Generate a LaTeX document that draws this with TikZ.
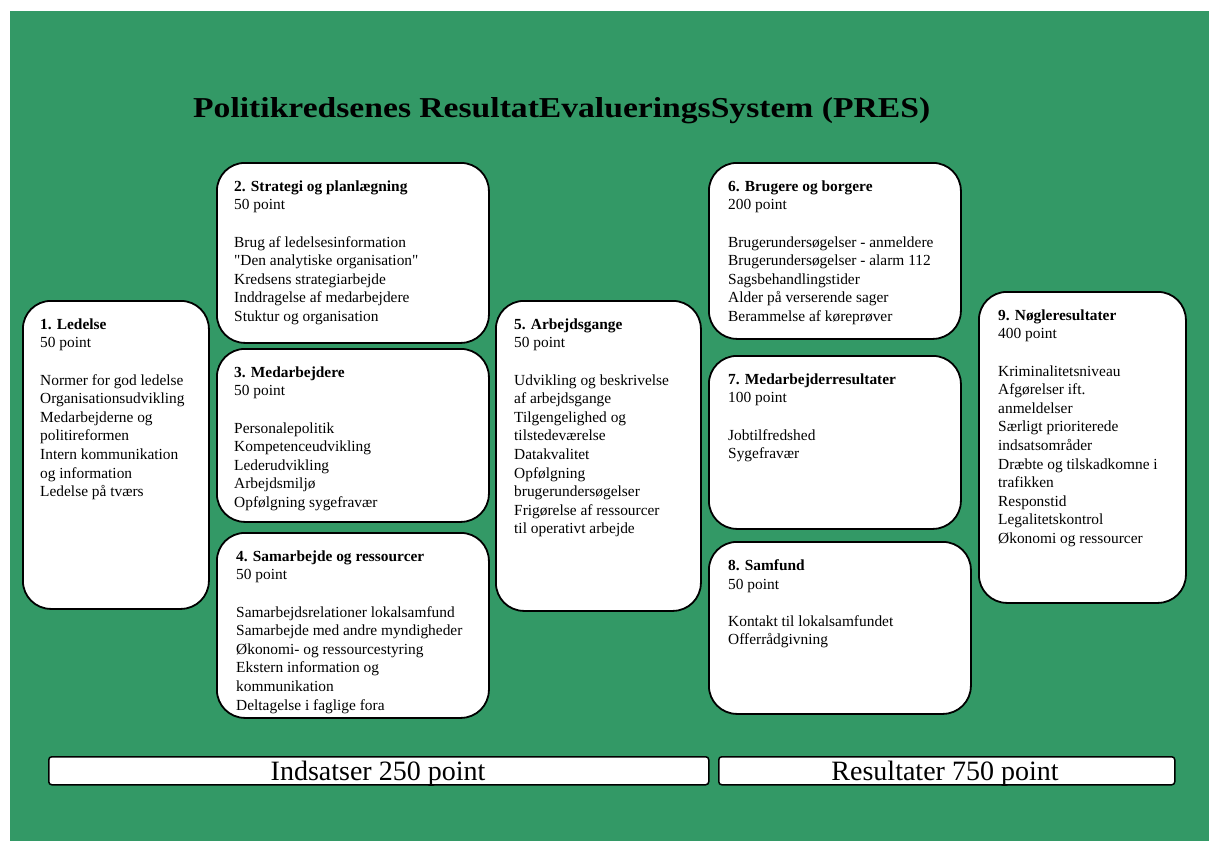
\documentclass[tikz,border=0pt]{standalone}
\usepackage{fontspec}
\setmainfont{Liberation Serif}[Ligatures=TeXOff]
\definecolor{bggreen}{RGB}{51,153,102}
\tikzset{
  card/.style={draw=black, line width=1.8pt, fill=white, rounded corners=28pt, inner sep=0pt, anchor=north west},
  cardtext/.style={anchor=north west, align=left, inner sep=0pt, font=\fontsize{15.4}{18.6}\selectfont},
  bar/.style={draw=black, line width=1.5pt, fill=white, rounded corners=3pt, inner sep=0pt, anchor=north west},
  barlabel/.style={anchor=base, inner sep=0pt, font=\fontsize{28}{32}\selectfont},
}
\begin{document}
\begin{tikzpicture}[x=1pt,y=-1pt]
\useasboundingbox (0,0) rectangle (1209,841);
\fill[bggreen] (10,11) rectangle (1209,841);
\node[anchor=base west, inner sep=0pt] (title) at (193,117) {\resizebox{737pt}{20pt}{\bfseries Politikredsenes ResultatEvalueringsSystem (PRES)}};

\node[card, minimum width=186pt, minimum height=308pt] (b1) at (22,300) {};
\node[card, minimum width=272pt, minimum height=180pt] (b2) at (216,162) {};
\node[card, minimum width=272pt, minimum height=173pt] (b3) at (216,348) {};
\node[card, minimum width=272pt, minimum height=185pt] (b4) at (216,532) {};
\node[card, minimum width=205pt, minimum height=310pt] (b5) at (495,300) {};
\node[card, minimum width=252pt, minimum height=176pt] (b6) at (708,162) {};
\node[card, minimum width=252pt, minimum height=173pt] (b7) at (708,355) {};
\node[card, minimum width=262pt, minimum height=172pt] (b8) at (708,541) {};
\node[card, minimum width=207pt, minimum height=311pt] (b9) at (978,291) {};

\node[cardtext] (t1) at (40,318.5) {\textbf{1. Ledelse}\\50 point\\[18.6pt]Normer for god ledelse\\Organisationsudvikling\\Medarbejderne og\\politireformen\\Intern kommunikation\\og information\\Ledelse på tværs};
\node[cardtext] (t2) at (234,180.5) {\textbf{2. Strategi og planlægning}\\50 point\\[18.6pt]Brug af ledelsesinformation\\"Den analytiske organisation"\\Kredsens strategiarbejde\\Inddragelse af medarbejdere\\Stuktur og organisation};
\node[cardtext] (t3) at (234,366.5) {\textbf{3. Medarbejdere}\\50 point\\[18.6pt]Personalepolitik\\Kompetenceudvikling\\Lederudvikling\\Arbejdsmiljø\\Opfølgning sygefravær};
\node[cardtext] (t4) at (236,550.5) {\textbf{4. Samarbejde og ressourcer}\\50 point\\[18.6pt]Samarbejdsrelationer lokalsamfund\\Samarbejde med andre myndigheder\\Økonomi- og ressourcestyring\\Ekstern information og\\kommunikation\\Deltagelse i faglige fora};
\node[cardtext] (t5) at (514,318.5) {\textbf{5. Arbejdsgange}\\50 point\\[18.6pt]Udvikling og beskrivelse\\af arbejdsgange\\Tilgengelighed og\\tilstedeværelse\\Datakvalitet\\Opfølgning\\brugerundersøgelser\\Frigørelse af ressourcer\\til operativt arbejde};
\node[cardtext] (t6) at (728,180.5) {\textbf{6. Brugere og borgere}\\200 point\\[18.6pt]Brugerundersøgelser - anmeldere\\Brugerundersøgelser - alarm 112\\Sagsbehandlingstider\\Alder på verserende sager\\Berammelse af køreprøver};
\node[cardtext] (t7) at (728,373.5) {\textbf{7. Medarbejderresultater}\\100 point\\[18.6pt]Jobtilfredshed\\Sygefravær};
\node[cardtext] (t8) at (728,559.5) {\textbf{8. Samfund}\\50 point\\[18.6pt]Kontakt til lokalsamfundet\\Offerrådgivning};
\node[cardtext] (t9) at (998,309.5) {\textbf{9. Nøgleresultater}\\400 point\\[18.6pt]Kriminalitetsniveau\\Afgørelser ift.\\anmeldelser\\Særligt prioriterede\\indsatsområder\\Dræbte og tilskadkomne i\\trafikken\\Responstid\\Legalitetskontrol\\Økonomi og ressourcer};

\node[bar, minimum width=660pt, minimum height=28pt] (ind) at (48,756) {};
\node[bar, minimum width=456pt, minimum height=28pt] (res) at (718,756) {};
\node[barlabel] (indl) at (378,780) {Indsatser 250 point};
\node[barlabel] (resl) at (945,780) {Resultater 750 point};
\end{tikzpicture}
\end{document}
